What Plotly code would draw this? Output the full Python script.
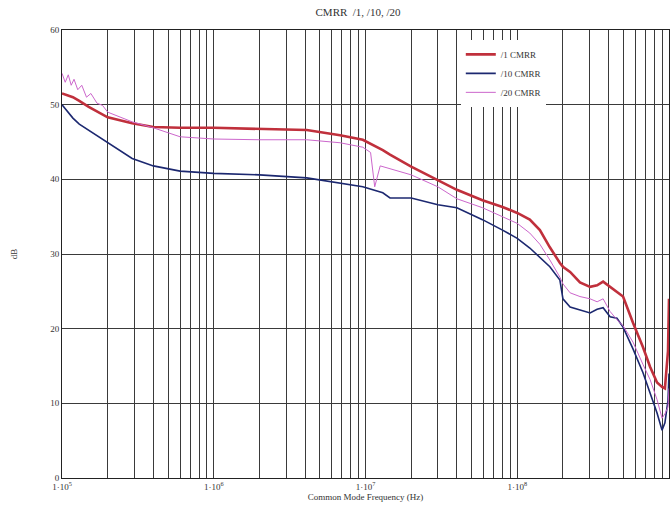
import plotly.graph_objects as go

# Common frequency points (Hz)
freq = [1.0e5, 1.18e5, 1.3e5, 1.5e5, 2.0e5, 2.9e5, 4.0e5, 6.0e5, 1.0e6, 2.0e6,
        4.1e6, 6.8e6, 9.6e6, 1.3e7, 1.45e7, 2.0e7, 3.0e7, 4.0e7, 5.9e7, 8.0e7,
        1.0e8, 1.21e8, 1.41e8, 1.64e8, 1.91e8, 2.0e8, 2.23e8, 2.59e8, 3.02e8,
        3.36e8, 3.68e8, 4.09e8, 4.54e8, 4.98e8, 5.79e8, 6.74e8, 7.5e8, 8.34e8,
        9.0e8, 9.4e8, 9.85e8, 1.0e9]

cmrr_1 = [51.5, 51.0, 50.5, 49.7, 48.3, 47.5, 47.0, 46.9, 46.9, 46.8,
          46.6, 45.9, 45.3, 43.9, 43.3, 41.7, 39.9, 38.6, 37.2, 36.3,
          35.5, 34.6, 33.2, 30.9, 28.8, 28.3, 27.6, 26.2, 25.6,
          25.8, 26.3, 25.6, 24.9, 24.3, 20.8, 17.5, 14.9, 12.8,
          12.2, 12.0, 17.0, 24.0]

cmrr_10 = [50.0, 48.2, 47.4, 46.6, 44.9, 42.8, 41.8, 41.1, 40.8, 40.6,
           40.2, 39.5, 39.0, 38.2, 37.5, 37.5, 36.6, 36.2, 34.6, 33.2,
           32.1, 30.8, 29.6, 28.3, 26.5, 24.0, 22.9, 22.5, 22.1,
           22.6, 22.8, 21.6, 21.4, 20.2, 17.3, 14.1, 11.4, 8.7,
           6.4, 7.4, 10.4, 14.0]

# /20 trace has its own, denser frequency grid (noisy at low frequency)
freq_20 = [1.0e5, 1.05e5, 1.1e5, 1.15e5, 1.2e5, 1.27e5, 1.35e5, 1.45e5, 1.55e5,
           1.7e5, 1.85e5, 2.0e5, 2.9e5, 4.0e5, 6.0e5, 1.0e6, 2.0e6, 4.1e6, 6.8e6,
           9.6e6, 1.08e7, 1.15e7, 1.25e7, 1.45e7, 2.0e7, 3.0e7, 4.0e7, 5.9e7, 8.0e7,
           1.0e8, 1.21e8, 1.41e8, 1.64e8, 1.91e8, 2.0e8, 2.23e8, 2.59e8, 3.02e8,
           3.36e8, 3.68e8, 4.09e8, 4.54e8, 4.98e8, 5.79e8, 6.74e8, 7.5e8, 8.34e8,
           9.0e8, 9.4e8, 9.85e8, 1.0e9]

cmrr_20 = [54.2, 53.0, 54.0, 52.6, 53.4, 52.0, 52.6, 51.0, 51.5,
           50.2, 49.9, 49.0, 47.7, 46.9, 45.7, 45.4, 45.3, 45.3, 44.9,
           44.3, 43.6, 39.0, 41.8, 41.4, 40.6, 39.0, 37.4, 36.2, 35.0,
           34.1, 32.8, 31.3, 29.2, 26.9, 26.0, 24.8, 24.3, 24.0,
           23.6, 24.0, 22.3, 21.2, 20.4, 18.2, 15.2, 13.2, 10.5,
           8.0, 8.6, 9.5, 12.0]

series_names = ["/1 CMRR", "/10 CMRR", "/20 CMRR"]
y_ticks = [0, 10, 20, 30, 40, 50, 60]
decades = [1e5, 1e6, 1e7, 1e8, 1e9]
decade_labels = ["1·10<sup>5</sup>", "1·10<sup>6</sup>", "1·10<sup>7</sup>",
                 "1·10<sup>8</sup>", "1·10<sup>9</sup>"]

FONT = "Liberation Serif"
GRID = "#3a3a3a"

fig = go.Figure()
fig.add_trace(go.Scatter(x=freq, y=cmrr_1, mode="lines", name=series_names[0],
                         line=dict(color="#c0303c", width=2.6)))
fig.add_trace(go.Scatter(x=freq, y=cmrr_10, mode="lines", name=series_names[1],
                         line=dict(color="#1c2870", width=1.6)))
fig.add_trace(go.Scatter(x=freq_20, y=cmrr_20, mode="lines", name=series_names[2],
                         line=dict(color="#cc66cc", width=1.0)))

fig.update_layout(
    width=670, height=517,
    margin=dict(l=62, r=1, t=30, b=39),
    paper_bgcolor="white", plot_bgcolor="white",
    font=dict(family=FONT, size=9, color="#333333"),
    title=dict(text="CMRR  /1, /10, /20", x=358 / 670, xanchor="center",
               y=1 - 12 / 517, yanchor="middle", yref="container",
               font=dict(family=FONT, size=11, color="#333333")),
    showlegend=True,
    legend=dict(x=0.657, y=0.978, xanchor="left", yanchor="top",
                bgcolor="white", borderwidth=0,
                font=dict(family=FONT, size=9, color="#333333"),
                tracegroupgap=0),
    xaxis=dict(type="log", range=[5, 9], tickmode="array",
               tickvals=decades, ticktext=decade_labels,
               showgrid=True, gridcolor=GRID, gridwidth=1,
               minor=dict(dtick="D1", showgrid=True, gridcolor=GRID, gridwidth=1,
                          ticks=""),
               showline=True, linecolor="#222222", linewidth=1, mirror=True,
               ticks="", zeroline=False,
               title=dict(text="Common Mode Frequency (Hz)", standoff=2,
                          font=dict(family=FONT, size=9))),
    yaxis=dict(range=[0, 60], tickvals=y_ticks,
               showgrid=True, gridcolor=GRID, gridwidth=1,
               showline=True, linecolor="#222222", linewidth=1, mirror=True,
               ticks="", zeroline=False,
               title=dict(text="dB", standoff=31, font=dict(family=FONT, size=9))),
)

fig.write_html(
    "out.html",
    config={"displayModeBar": False},
    post_script="document.body.style.margin='0';document.body.style.overflow='hidden';",
)
